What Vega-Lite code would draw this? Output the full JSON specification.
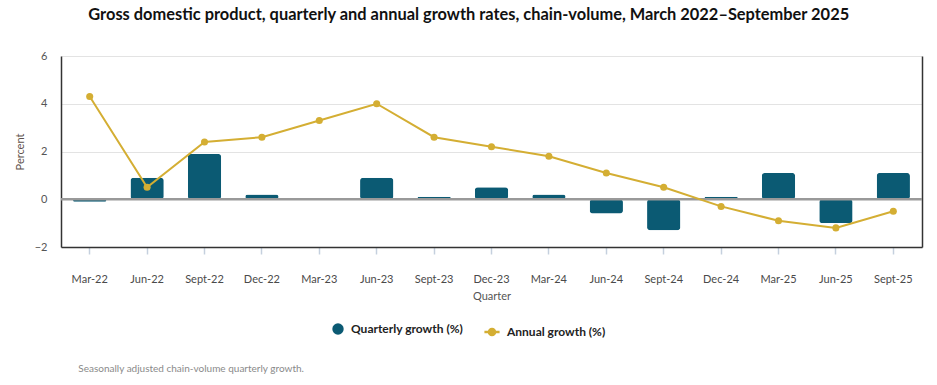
{
  "$schema": "https://vega.github.io/schema/vega-lite/v6.json",
  "padding": {"left": 14, "top": 6, "right": 14, "bottom": 12},
  "background": "white",
  "config": {"font": "Lato", "view": {"stroke": null}},
  "title": {"text": "Seasonally adjusted chain-volume quarterly growth.", "orient": "bottom", "anchor": "start", "frame": "bounds", "fontSize": 10, "fontWeight": "normal", "color": "#8a8a8a", "dx": 64, "offset": 23},
  "data": {"values": [
    {"quarter": "Mar-22", "q": -0.1, "a": 4.3},
    {"quarter": "Jun-22", "q": 0.9, "a": 0.5},
    {"quarter": "Sept-22", "q": 1.9, "a": 2.4},
    {"quarter": "Dec-22", "q": 0.2, "a": 2.6},
    {"quarter": "Mar-23", "q": 0.0, "a": 3.3},
    {"quarter": "Jun-23", "q": 0.9, "a": 4.0},
    {"quarter": "Sept-23", "q": 0.1, "a": 2.6},
    {"quarter": "Dec-23", "q": 0.5, "a": 2.2},
    {"quarter": "Mar-24", "q": 0.2, "a": 1.8},
    {"quarter": "Jun-24", "q": -0.6, "a": 1.1},
    {"quarter": "Sept-24", "q": -1.3, "a": 0.5},
    {"quarter": "Dec-24", "q": 0.1, "a": -0.3},
    {"quarter": "Mar-25", "q": 1.1, "a": -0.9},
    {"quarter": "Jun-25", "q": -1.0, "a": -1.2},
    {"quarter": "Sept-25", "q": 1.1, "a": -0.5}
  ]},
  "resolve": {"legend": {"fill": "independent", "stroke": "independent"}},
  "vconcat": [{
    "width": 861,
    "height": 191,
    "title": {"text": "Gross domestic product, quarterly and annual growth rates, chain-volume, March 2022\u2013September 2025", "anchor": "middle", "frame": "bounds", "fontSize": 16.4, "fontWeight": "bold", "color": "#111111", "offset": 27},
    "resolve": {"axis": {"y": "independent"}},
    "layer": [
      {
        "mark": {"type": "bar", "cornerRadius": 3},
        "encoding": {
          "x": {"field": "quarter", "type": "ordinal", "sort": null, "scale": {"paddingInner": 0.42, "paddingOuter": 0.21},
            "axis": {"title": "Quarter", "titleFontSize": 11, "titleFontWeight": "normal", "titleColor": "#555555", "titlePadding": 6, "labelAngle": 0, "labelFontSize": 11, "labelColor": "#4a4a4a", "labelPadding": 19, "domainColor": "#333333", "domainWidth": 1.5, "tickColor": "#c5d0de", "tickSize": 7, "tickWidth": 1.5, "grid": false}},
          "y": {"field": "q", "type": "quantitative", "scale": {"domain": [-2, 6], "nice": false},
            "axis": {"title": "Percent", "titleFontSize": 11, "titleFontWeight": "normal", "titleColor": "#5e524c", "titlePadding": 9, "values": [-2, 0, 2, 4, 6], "labelFontSize": 11, "labelColor": "#555555", "labelPadding": 14, "ticks": false, "domainColor": "#333333", "domainWidth": 1.5, "gridColor": "#e3e3e3", "gridWidth": 1}},
          "fill": {"datum": "Quarterly growth (%)", "scale": {"range": ["#0b5a73"]},
            "legend": {"orient": "none", "legendX": 271, "legendY": 267, "title": null, "padding": 0, "labelFontSize": 12, "labelFontWeight": "bold", "labelColor": "#222222", "labelOffset": 7, "symbolType": "circle", "symbolSize": 130, "symbolStrokeWidth": 0}}
        }
      },
      {
        "data": {"values": [{}]},
        "mark": {"type": "rule", "color": "#999999", "strokeWidth": 2.5},
        "encoding": {"y": {"datum": 0, "axis": null}}
      },
      {
        "mark": {"type": "line", "strokeWidth": 2},
        "encoding": {
          "x": {"field": "quarter", "type": "ordinal", "sort": null},
          "y": {"field": "a", "type": "quantitative", "axis": {"orient": "right", "title": null, "labels": false, "ticks": false, "grid": false, "domainColor": "#333333", "domainWidth": 1.5}},
          "stroke": {"datum": "Annual growth (%)", "scale": {"range": ["#d4ae33"]},
            "legend": {"orient": "none", "legendX": 422, "legendY": 267, "title": null, "padding": 0, "labelFontSize": 12, "labelFontWeight": "bold", "labelColor": "#222222", "labelOffset": 6, "symbolType": "M-1,0L1,0M0.4,0A0.4,0.4,0,1,1,-0.4,0A0.4,0.4,0,1,1,0.4,0Z", "symbolSize": 230,
              "encode": {"symbols": {"update": {"stroke": {"value": "#d4ae33"}, "strokeWidth": {"value": 2.5}, "fill": {"value": "#d4ae33"}, "opacity": {"value": 1}, "strokeOpacity": {"value": 1}}}}}}
        }
      },
      {
        "mark": {"type": "point", "filled": true, "size": 50, "color": "#d4ae33", "opacity": 1},
        "encoding": {
          "x": {"field": "quarter", "type": "ordinal", "sort": null},
          "y": {"field": "a", "type": "quantitative", "axis": null}
        }
      }
    ]
  }]
}
